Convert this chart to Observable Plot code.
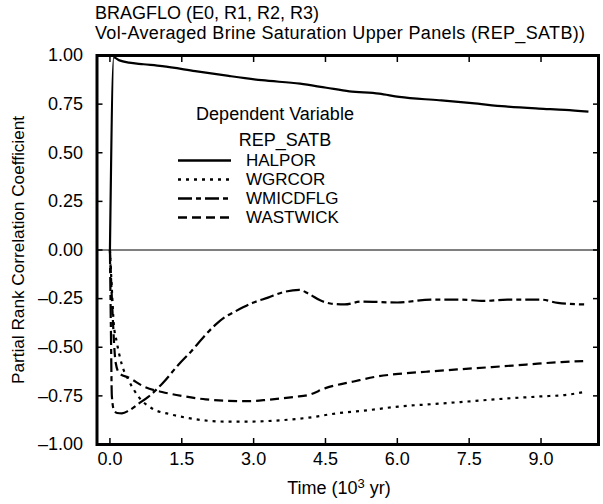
<!DOCTYPE html>
<html>
<head>
<meta charset="utf-8">
<script src="https://cdn.jsdelivr.net/npm/d3@7"></script>
<script src="https://cdn.jsdelivr.net/npm/@observablehq/plot@0.6"></script>
<style>
  body { margin: 0; background: #fff; }
  #wrap { position: relative; width: 603px; height: 504px; font-family: "Liberation Sans", Arial, Helvetica, sans-serif; color: #000; }
  #chart { position: absolute; left: 0; top: 0; }
  #title { position: absolute; left: 95px; top: 4px; font-size: 18px; line-height: 19.5px; white-space: nowrap; }
  #t2 { letter-spacing: 0.35px; }
  #xlab { position: absolute; left: 239px; width: 200px; top: 479px; text-align: center; font-size: 18px; line-height: 18px; white-space: nowrap; }
  #xlab sup { font-size: 13px; vertical-align: 6px; line-height: 0; }
  #legend { position: absolute; left: 0; top: 0; width: 603px; height: 504px; pointer-events: none; font-size: 17px; }
  #legend .hdr { position: absolute; width: 200px; text-align: center; line-height: 19px; white-space: nowrap; font-size: 18px; }
  #legend .row { position: absolute; height: 19px; line-height: 19px; white-space: nowrap; }
  #legend .row svg { position: absolute; left: 0; top: 0; }
  #legend .row span { position: absolute; white-space: nowrap; }
</style>
</head>
<body>
<div id="wrap">
  <div id="chart"></div>
  <div id="title"><div id="t1"></div><div id="t2"></div></div>
  <div id="xlab"></div>
  <div id="legend"></div>
</div>
<script>
// ---- text ----
const titleLine1 = "BRAGFLO (E0, R1, R2, R3)";
const titleLine2 = "Vol-Averaged Brine Saturation Upper Panels (REP_SATB))";
const xLabelMain = "Time (10";
const xLabelSup = "3";
const xLabelEnd = " yr)";
const yLabel = "Partial Rank Correlation Coefficient";
const legendTitle1 = "Dependent Variable";
const legendTitle2 = "REP_SATB";

// ---- ticks ----
const xTicks = [0, 1.5, 3.0, 4.5, 6.0, 7.5, 9.0];
const yTicks = [-1, -0.75, -0.5, -0.25, 0, 0.25, 0.5, 0.75, 1];

// ---- series names & styles ----
const seriesNames = ["HALPOR", "WGRCOR", "WMICDFLG", "WASTWICK"];
const seriesDash = ["none", "3,5", "14,4,5,4", "9,5"];

// ---- series values (time in 10^3 yr, PRCC) ----
const halporT = [0, 0.08, 0.2, 0.4, 0.7, 1.09, 1.78, 2.48, 3.17, 3.97, 4.52, 5.0, 5.62, 6.04, 6.87, 7.56, 8.26, 8.95, 9.5, 9.99];
const halporV = [0, 0.99, 0.975, 0.963, 0.955, 0.945, 0.92, 0.895, 0.873, 0.855, 0.834, 0.816, 0.804, 0.787, 0.77, 0.755, 0.738, 0.727, 0.72, 0.711];

const wgrcorT = [0, 0.04, 0.08, 0.14, 0.25, 0.39, 0.6, 0.88, 1.23, 1.64, 2.05, 2.4, 2.92, 3.64, 4.15, 4.73, 5.45, 6.02, 6.75, 7.47, 8.19, 8.98, 9.56, 9.96];
const wgrcorV = [0, -0.2, -0.38, -0.47, -0.59, -0.67, -0.755, -0.815, -0.843, -0.864, -0.878, -0.882, -0.882, -0.874, -0.862, -0.84, -0.822, -0.805, -0.792, -0.779, -0.765, -0.753, -0.744, -0.727];

const wmicT = [0, 0.02, 0.04, 0.08, 0.15, 0.25, 0.4, 0.6, 0.8, 1.1, 1.43, 1.7, 2.0, 2.2, 2.4, 2.6, 3.0, 3.3, 3.6, 3.95, 4.15, 4.4, 4.6, 4.9, 5.25, 6.0, 6.7, 7.3, 7.8, 8.3, 9.0, 9.35, 9.9];
const wmicV = [0, -0.4, -0.75, -0.82, -0.838, -0.84, -0.825, -0.79, -0.755, -0.685, -0.59, -0.52, -0.435, -0.385, -0.345, -0.318, -0.27, -0.245, -0.218, -0.205, -0.225, -0.26, -0.275, -0.28, -0.265, -0.27, -0.255, -0.255, -0.262, -0.255, -0.255, -0.272, -0.28];

const wastT = [0, 0.05, 0.12, 0.2, 0.39, 0.74, 1.09, 1.5, 2.0, 2.4, 2.9, 3.3, 3.86, 4.15, 4.5, 5.09, 5.59, 6.02, 6.6, 7.25, 7.97, 8.69, 9.42, 9.88];
const wastV = [0, -0.3, -0.58, -0.635, -0.656, -0.706, -0.73, -0.75, -0.768, -0.775, -0.777, -0.77, -0.755, -0.745, -0.71, -0.676, -0.65, -0.637, -0.626, -0.614, -0.602, -0.589, -0.576, -0.571];

const seriesT = [halporT, wgrcorT, wmicT, wastT];
const seriesV = [halporV, wgrcorV, wmicV, wastV];

document.getElementById("t1").textContent = titleLine1;
document.getElementById("t2").textContent = titleLine2;
const xlab = document.getElementById("xlab");
xlab.appendChild(document.createTextNode(xLabelMain));
const sup = document.createElement("sup"); sup.textContent = xLabelSup; xlab.appendChild(sup);
xlab.appendChild(document.createTextNode(xLabelEnd));

const fmt1 = d3.format(".1f");
const fmt2 = d => (d < 0 ? "\u2013" : "") + d3.format(".2f")(Math.abs(d));

const lineMarks = seriesNames.map((name, i) => {
  const data = seriesT[i].map((t, j) => ({t, v: seriesV[i][j]}));
  return Plot.line(data, {
    x: "t", y: "v", stroke: "#000", strokeWidth: 2.2,
    strokeDasharray: seriesDash[i] === "none" ? null : seriesDash[i],
    strokeLinecap: "butt",
    curve: "monotone-x"
  });
});

const chart = Plot.plot({
  width: 603,
  height: 504,
  marginTop: 55,
  marginBottom: 60,
  marginLeft: 96.5,
  marginRight: 5,
  style: { fontFamily: "'Liberation Sans', Arial, Helvetica, sans-serif", fontSize: "18px", color: "#000", background: "#fff", overflow: "visible" },
  x: { domain: [-0.27, 10.2] },
  y: { domain: [-1, 1] },
  marks: [
    Plot.ruleY([0], { stroke: "#000", strokeWidth: 1 }),
    ...lineMarks,
    Plot.axisX({ anchor: "bottom", ticks: xTicks, tickSize: 0, tickPadding: 8, tickFormat: fmt1, label: null }),
    Plot.axisX({ anchor: "bottom", ticks: xTicks, tickSize: -6, fill: "none", strokeWidth: 1.5 }),
    Plot.axisX({ anchor: "top", ticks: xTicks, tickSize: -6, fill: "none", strokeWidth: 1.5 }),
    Plot.axisY({ anchor: "left", ticks: yTicks, tickSize: 0, tickPadding: 14, tickFormat: fmt2, label: null }),
    Plot.axisY({ anchor: "left", ticks: [], fill: "currentColor", fontSize: 17.2, tickSize: 0, label: yLabel, labelAnchor: "center", labelOffset: 85, labelArrow: "none" }),
    Plot.axisY({ anchor: "left", ticks: yTicks, tickSize: -6, fill: "none", strokeWidth: 1.5 }),
    Plot.axisY({ anchor: "right", ticks: yTicks, tickSize: -6, fill: "none", strokeWidth: 1.5 }),
    Plot.frame({ stroke: "#000", strokeWidth: 3 })
  ]
});
document.getElementById("chart").appendChild(chart);

// ---- legend (inside plot area) ----
const legend = document.getElementById("legend");
[[legendTitle1, 275, 104.5], [legendTitle2, 285, 131]].forEach(([txt, cx, top]) => {
  const d = document.createElement("div");
  d.className = "hdr";
  d.style.left = (cx - 100) + "px";
  d.style.top = top + "px";
  d.textContent = txt;
  legend.appendChild(d);
});
const rowTops = [151, 170, 189, 208];
seriesNames.forEach((name, i) => {
  const row = document.createElement("div");
  row.className = "row";
  row.style.left = "178px";
  row.style.top = rowTops[i] + "px";
  row.style.width = "220px";
  const ns = "http://www.w3.org/2000/svg";
  const svg = document.createElementNS(ns, "svg");
  svg.setAttribute("width", "56");
  svg.setAttribute("height", "19");
  const ln = document.createElementNS(ns, "line");
  ln.setAttribute("x1", "0"); ln.setAttribute("x2", "53");
  ln.setAttribute("y1", "9.5"); ln.setAttribute("y2", "9.5");
  ln.setAttribute("stroke", "#000");
  ln.setAttribute("stroke-width", "2.4");
  if (seriesDash[i] !== "none") ln.setAttribute("stroke-dasharray", seriesDash[i]);
  svg.appendChild(ln);
  row.appendChild(svg);
  const sp = document.createElement("span");
  sp.style.left = "68px";
  sp.style.top = "0px";
  sp.textContent = name;
  row.appendChild(sp);
  legend.appendChild(row);
});
</script>
</body>
</html>
